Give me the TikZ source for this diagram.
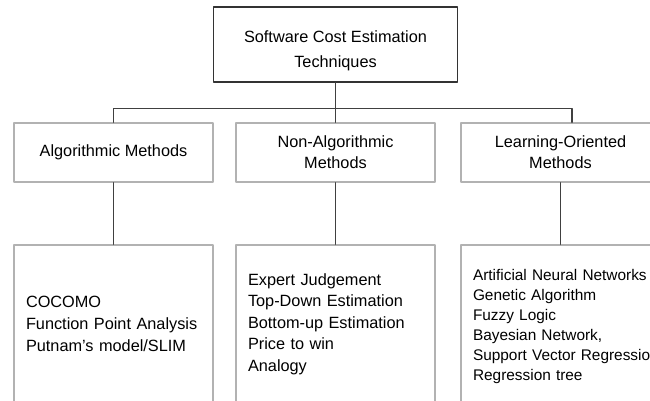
\documentclass[tikz,border=0pt]{standalone}
\usepackage{fontspec}
\setmainfont{Liberation Sans}
\begin{document}
\begin{tikzpicture}[x=1pt, y=-1pt, line join=round, line cap=round,
  font=\fontsize{16.3}{21}\selectfont,
  wire/.style={draw=black!75, line width=1.4pt},
  rootbox/.style={draw=black!80, line width=1.6pt, fill=white, minimum width=244pt, minimum height=75pt, align=center, inner sep=0pt},
  methodbox/.style={draw=black!30, line width=1.4pt, fill=white, minimum width=199pt, minimum height=59pt, align=center, inner sep=0pt},
  listbox/.style={draw=black!30, line width=1.4pt, fill=white, minimum height=158pt, text width=175pt, inner xsep=12pt, align=left}]
 \useasboundingbox (0,0) rectangle (650,400);
 \clip (0,0) rectangle (650,400);
 \node[rootbox, font=\fontsize{16.3}{25}\selectfont] (root) at (335.5,44.5) {\rule{0pt}{24pt}Software Cost Estimation\\Techniques};
 \node[methodbox] (alg) at (113.5,152.5) {Algorithmic Methods};
 \node[methodbox] (non) at (335.5,152.5) {Non-Algorithmic\\Methods};
 \node[methodbox] (learn) at (560.5,152.5) {Learning-Oriented\\Methods};
 \node[listbox, font=\fontsize{16.3}{22}\selectfont] (alg-list) at (113.5,324) {COCOMO\\Function Point Analysis\\Putnam's model/SLIM};
 \node[listbox, font=\fontsize{16.3}{21.5}\selectfont] (non-list) at (335.5,324) {Expert Judgement\\Top-Down Estimation\\Bottom-up Estimation\\Price to win\\Analogy};
 \node[listbox, font=\fontsize{15.4}{20}\selectfont] (learn-list) at (560.5,324) {\rule{0pt}{17pt}Artificial Neural Networks\\Genetic Algorithm\\Fuzzy Logic\\Bayesian Network,\\\mbox{Support Vector Regression}\\Regression tree};
 % tree connectors
 \draw[wire] (root.south) -- ++(0,25.5) coordinate (bus);
 \draw[wire] (alg.north) |- (bus) -| ([xshift=11.5pt]learn.north);
 \draw[wire] (bus) -- (non.north);
 \foreach \m in {alg,non,learn} \draw[wire] (\m) -- (\m-list);
\end{tikzpicture}
\end{document}
